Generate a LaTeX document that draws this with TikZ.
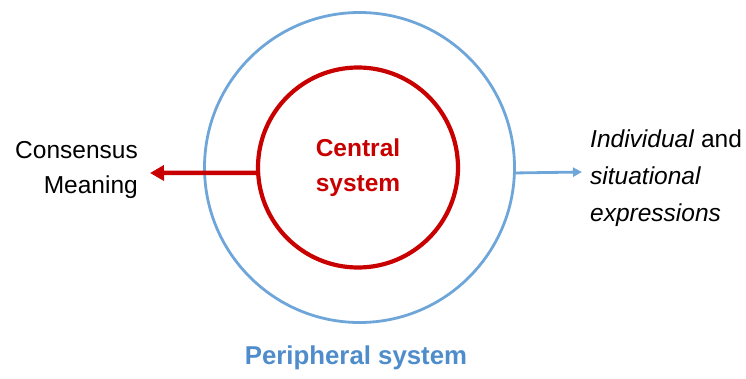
\documentclass[tikz,border=0pt]{standalone}
\usepackage{fontspec}
\setmainfont{Liberation Sans}
\usetikzlibrary{arrows.meta}
\definecolor{cred}{RGB}{200,0,0}
\definecolor{cblue}{RGB}{111,166,218}
\definecolor{tblue}{RGB}{78,140,204}
\tikzset{
  lbl/.style={font=\fontsize{24.5}{35}\selectfont, inner sep=0pt},
  ring/.style={circle, inner sep=0pt},
}
\begin{document}
\begin{tikzpicture}[x=1pt,y=-1pt]
\useasboundingbox (0,0) rectangle (746,378);
\node[ring, draw=cblue, line width=2.8pt, minimum size=310pt] (outer) at (359.5,167.5) {};
\node[ring, draw=cred, line width=4.2pt, minimum size=200pt, text=cred, align=center,
      font=\bfseries\fontsize{24.5}{35}\selectfont] (inner) at (358,167.5) {Central\\system};
\node[lbl, anchor=east, align=right] (cons) at (138,170) {Consensus\\Meaning};
\node[lbl, anchor=west, align=left, font=\fontsize{24.5}{37}\selectfont] (indiv) at (590,178) {\textit{Individual} and\\\textit{situational}\\\textit{expressions}};
\node[lbl, text=tblue, font=\bfseries\fontsize{25.8}{30}\selectfont] (periph) at (356,358) {Peripheral system};
\coordinate (redend) at (150,173);
\coordinate (blueend) at (582,172);
\draw[cred, line width=4.5pt, -{Triangle[length=14pt,width=15pt]}] (inner.183) -- (redend);
\draw[cblue, line width=2.8pt, -{Triangle[length=9pt,width=9pt]}] (outer.358) -- (blueend);
\end{tikzpicture}
\end{document}
